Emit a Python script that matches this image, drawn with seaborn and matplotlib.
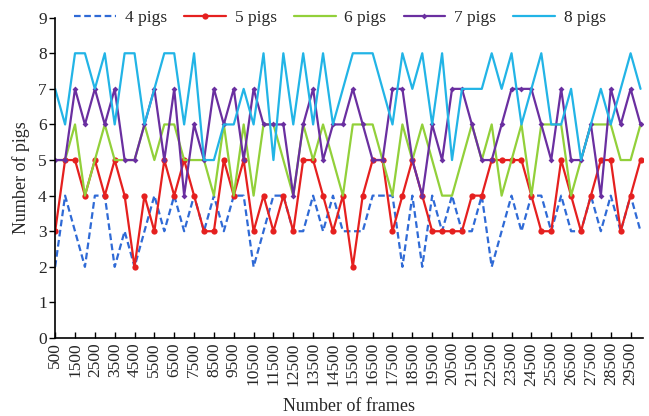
import matplotlib
matplotlib.use("Agg")
import matplotlib.pyplot as plt
import seaborn as sns

# frames sampled every 500
frames = list(range(500, 30001, 500))
tick_frames = list(range(500, 30000, 1000))

pigs4 = [2, 4, 3, 2, 4, 4, 2, 3, 2, 3, 4, 3, 4, 3, 4, 3, 4, 3, 4, 4,
         2, 3, 4, 4, 3, 3, 4, 3, 4, 3, 3, 3, 4, 4, 4, 2, 4, 2, 4, 3,
         4, 3, 3, 4, 2, 3, 4, 3, 4, 4, 3, 4, 3, 3, 4, 3, 4, 3, 4, 3]
pigs5 = [3, 5, 5, 4, 5, 4, 5, 4, 2, 4, 3, 5, 4, 5, 4, 3, 3, 5, 4, 5,
         3, 4, 3, 4, 3, 5, 5, 4, 3, 4, 2, 4, 5, 5, 3, 4, 5, 4, 3, 3,
         3, 3, 4, 4, 5, 5, 5, 5, 4, 3, 3, 5, 4, 3, 4, 5, 5, 3, 4, 5]
pigs6 = [5, 5, 6, 4, 5, 6, 5, 5, 5, 6, 5, 6, 6, 5, 5, 5, 4, 6, 4, 6,
         4, 6, 6, 5, 4, 6, 5, 6, 5, 4, 6, 6, 6, 5, 4, 6, 5, 6, 5, 4,
         4, 5, 6, 5, 6, 4, 5, 6, 4, 6, 6, 6, 4, 5, 6, 6, 6, 5, 5, 6]
pigs7 = [5, 5, 7, 6, 7, 6, 7, 5, 5, 6, 7, 5, 7, 4, 6, 5, 7, 6, 7, 5,
         7, 6, 6, 6, 4, 6, 7, 5, 6, 6, 7, 6, 5, 5, 7, 7, 5, 4, 6, 5,
         7, 7, 6, 5, 5, 6, 7, 7, 7, 6, 5, 7, 5, 5, 6, 4, 7, 6, 7, 6]
pigs8 = [7, 6, 8, 8, 7, 8, 6, 8, 8, 6, 7, 8, 8, 6, 8, 5, 5, 6, 6, 7,
         6, 8, 5, 8, 6, 8, 6, 8, 6, 7, 8, 8, 8, 7, 6, 8, 7, 8, 6, 8,
         5, 7, 7, 7, 8, 7, 8, 6, 7, 8, 6, 6, 7, 5, 6, 7, 6, 7, 8, 7]

sns.set_style("ticks")
plt.rcParams["font.family"] = ["Liberation Serif", "DejaVu Serif"]

fig = plt.figure(figsize=(6.49, 4.16), dpi=100)
ax = fig.add_axes([0.085, 0.1875, 0.905, 0.77])

sns.lineplot(x=frames, y=pigs4, ax=ax, color="#2f6ad6", lw=1.6, linestyle=(0, (3, 1.6)), label="4 pigs")
sns.lineplot(x=frames, y=pigs5, ax=ax, color="#e5201f", lw=1.6, marker="o", markersize=4.5,
             markeredgewidth=0, label="5 pigs")
sns.lineplot(x=frames, y=pigs6, ax=ax, color="#92d03a", lw=1.6, label="6 pigs")
sns.lineplot(x=frames, y=pigs7, ax=ax, color="#6a2fa0", lw=1.6, marker="D", markersize=3,
             markeredgewidth=0, label="7 pigs")
sns.lineplot(x=frames, y=pigs8, ax=ax, color="#22b4e6", lw=1.6, label="8 pigs")

ax.set_xlim(500, 30100)
ax.set_ylim(0, 9)
ax.set_yticks(range(10))
ax.set_xticks(tick_frames)
ax.set_xticklabels([str(f) for f in tick_frames], rotation=90)
ax.tick_params(axis="x", direction="in", length=4, width=1, labelsize=12.5, pad=3, color="black")
ax.tick_params(axis="y", direction="out", length=4, width=1, labelsize=12.5, pad=2, color="black")
for s in ["left", "bottom"]:
    ax.spines[s].set_color("black")
    ax.spines[s].set_linewidth(1.2)
sns.despine(ax=ax)

ax.set_xlabel("Number of frames", fontsize=13, labelpad=9)
ax.set_ylabel("Number of pigs", fontsize=13, labelpad=6)

ax.legend(loc="center", bbox_to_anchor=(0.485, 1.0), ncol=5, frameon=False, fontsize=12.5,
          handlelength=2.4, columnspacing=1.0, handletextpad=0.5)

fig.savefig("out.png", dpi=100)
